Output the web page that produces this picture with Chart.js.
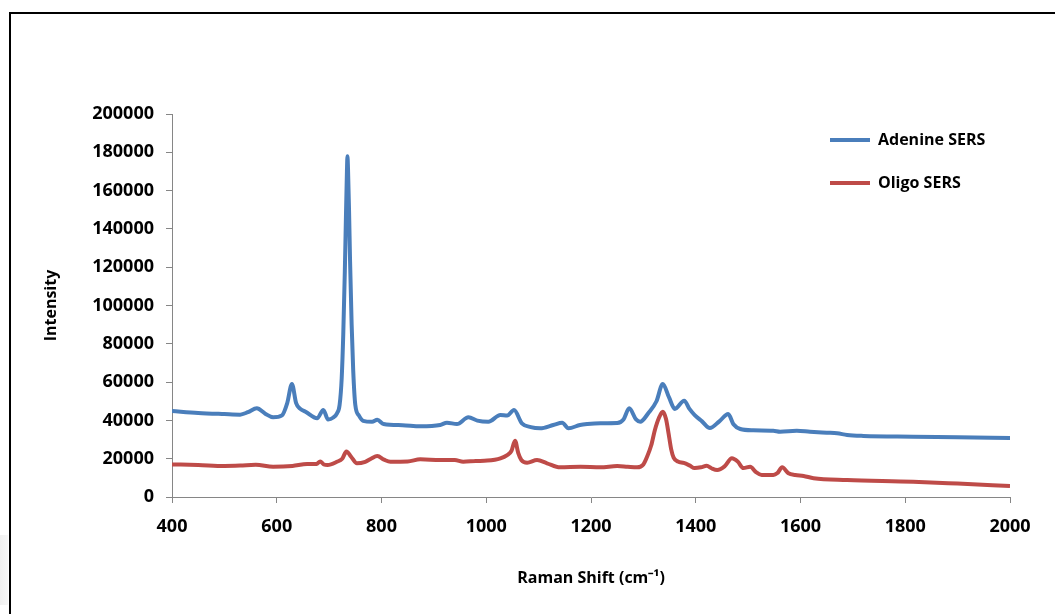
<!DOCTYPE html>
<html><head><meta charset="utf-8">
<script src="https://cdn.jsdelivr.net/npm/chart.js@4.4.1/dist/chart.umd.min.js"></script>
<style>
html,body{margin:0;padding:0;background:#fff;overflow:hidden;}
#wrap{position:relative;width:1055px;height:614px;overflow:hidden;background:#fff;}
#frame{position:absolute;left:9px;top:12px;width:1200px;height:800px;border-left:2.5px solid #000;border-top:2.5px solid #000;}
#shade{position:absolute;left:0;top:535px;width:8px;height:70px;background:linear-gradient(to right,#f0f0f0,#f7f7f7);}
canvas{position:absolute;left:0;top:0;}
</style></head><body>
<div id="wrap"><div id="shade"></div><div id="frame"></div><canvas id="c" width="1055" height="614"></canvas></div>
<script>
const seriesNames = ['Adenine SERS', 'Oligo SERS'];
const seriesColors = ['#4A7EBB', '#BE4B48'];

const adenineShift = [400, 450, 500, 530, 545, 562, 578, 593, 610, 620, 629, 637, 645, 655, 677, 689, 698, 708, 715, 720, 724, 727, 730, 732, 734, 735, 736, 738, 740, 743, 746, 750, 757, 765, 782, 792, 804, 840, 874, 912, 925, 944, 966, 983, 1004, 1027, 1040, 1053, 1068, 1085, 1103, 1128, 1145, 1157, 1179, 1193, 1218, 1250, 1262, 1273, 1286, 1294, 1310, 1325, 1337, 1349, 1360, 1378, 1388, 1398, 1412, 1427, 1445, 1462, 1472, 1485, 1510, 1548, 1561, 1593, 1618, 1650, 1670, 1689, 1720, 1815, 1900, 2000];
const adenineIntensity = [44900, 43900, 43300, 43000, 44300, 46300, 43500, 41600, 42600, 49000, 59000, 49000, 46000, 44500, 41100, 45400, 40500, 41500, 43700, 48000, 62000, 85000, 118000, 145000, 170000, 178000, 172000, 150000, 123000, 90000, 66000, 48000, 42500, 39800, 39300, 40300, 38100, 37500, 36900, 37600, 38800, 38100, 41600, 39900, 39300, 42800, 42500, 45400, 38500, 36500, 35900, 37600, 38800, 35900, 37600, 38100, 38500, 38600, 40500, 46300, 40500, 39300, 44000, 50000, 59000, 52000, 46000, 50300, 46000, 42800, 39500, 36000, 39500, 43300, 38000, 35500, 34800, 34600, 34100, 34600, 34100, 33600, 33300, 32400, 31900, 31500, 31200, 30800];

const oligoShift = [400, 450, 500, 530, 560, 593, 630, 658, 676, 683, 690, 697, 715, 725, 733, 742, 753, 769, 780, 792, 805, 817, 850, 874, 912, 940, 956, 980, 1002, 1027, 1040, 1048, 1055, 1061, 1067, 1078, 1097, 1116, 1141, 1180, 1218, 1250, 1270, 1288, 1300, 1307, 1315, 1322, 1330, 1337, 1343, 1348, 1353, 1358, 1366, 1377, 1388, 1398, 1410, 1421, 1430, 1441, 1455, 1469, 1480, 1491, 1504, 1515, 1526, 1548, 1556, 1565, 1577, 1590, 1606, 1625, 1689, 1815, 1900, 2000];
const oligoIntensity = [17000, 16700, 16200, 16400, 16800, 15800, 16200, 17200, 17200, 18600, 17000, 16700, 18400, 20000, 23700, 21000, 17600, 18400, 20000, 21400, 19500, 18400, 18500, 19700, 19300, 19300, 18400, 18800, 19000, 20200, 21900, 24000, 29400, 23000, 19300, 17900, 19300, 17600, 15500, 15800, 15500, 16200, 15800, 15500, 17000, 21000, 27000, 35000, 41500, 44500, 41000, 33400, 25000, 20400, 18500, 17800, 16500, 15100, 15500, 16300, 15000, 14100, 16000, 20200, 18500, 15100, 15800, 13000, 11500, 11500, 12500, 15500, 12400, 11500, 11000, 9800, 8900, 8000, 7000, 5700];

const xTicks = [400, 600, 800, 1000, 1200, 1400, 1600, 1800, 2000];
const yTicks = [0, 20000, 40000, 60000, 80000, 100000, 120000, 140000, 160000, 180000, 200000];
const xTitle = 'Raman Shift (cm\u207B\u00B9)';
const yTitle = 'Intensity';

const toPoints = (xs, ys) => xs.map((x, i) => ({x: x, y: ys[i]}));

const FONT = "'Open Sans', 'Liberation Sans', sans-serif";
Chart.defaults.color = '#000';
Chart.defaults.font.family = FONT;

const legendPlace = {
  id: 'legendPlace',
  afterUpdate(chart) {
    const l = chart.legend;
    if (!l) return;
    l.left = 803; l.top = 105; l.width = 240; l.height = 140;
    l.right = l.left + l.width; l.bottom = l.top + l.height;
    if (l.adjustHitBoxes) l.adjustHitBoxes();
  }
};

const axisColor = '#868686';

new Chart(document.getElementById('c'), {
  type: 'line',
  data: {
    datasets: [
      {label: seriesNames[0], data: toPoints(adenineShift, adenineIntensity), borderColor: seriesColors[0], backgroundColor: seriesColors[0], borderWidth: 4, pointRadius: 0, pointStyle: 'line', cubicInterpolationMode: 'monotone', fill: false},
      {label: seriesNames[1], data: toPoints(oligoShift, oligoIntensity), borderColor: seriesColors[1], backgroundColor: seriesColors[1], borderWidth: 4, pointRadius: 0, pointStyle: 'line', cubicInterpolationMode: 'monotone', fill: false}
    ]
  },
  options: {
    responsive: false,
    animation: false,
    layout: {padding: {left: 0, right: 45, top: 114, bottom: 0}},
    plugins: {
      tooltip: {enabled: false},
      legend: {
        position: 'chartArea',
        align: 'start',
        labels: {
          usePointStyle: true,
          pointStyleWidth: 40,
          padding: 27,
          color: '#000',
          font: {family: FONT, size: 16, weight: 'bold'}
        }
      }
    },
    scales: {
      x: {
        type: 'linear',
        min: 400, max: 2000,
        afterBuildTicks: (axis) => { axis.ticks = xTicks.map(v => ({value: v})); },
        afterFit: (axis) => { axis.height = 117; },
        grid: {drawOnChartArea: false, drawTicks: true, tickLength: 6, color: axisColor, lineWidth: 1},
        border: {color: axisColor, width: 1},
        ticks: {padding: 13, color: '#000', maxRotation: 0, font: {family: FONT, size: 18, weight: 'bold'}, callback: (v) => String(v)},
        title: {display: true, text: xTitle, color: '#000', font: {family: FONT, size: 16, weight: 'bold'}, padding: {top: 0, bottom: 26}}
      },
      y: {
        type: 'linear',
        min: 0, max: 200000,
        afterBuildTicks: (axis) => { axis.ticks = yTicks.map(v => ({value: v})); },
        afterFit: (axis) => { axis.width = 172; },
        grid: {drawOnChartArea: false, drawTicks: true, tickLength: 6, color: axisColor, lineWidth: 1},
        border: {color: axisColor, width: 1},
        ticks: {padding: 12, color: '#000', font: {family: FONT, size: 18, weight: 'bold'}, callback: (v) => String(v)},
        title: {display: true, text: yTitle, color: '#000', font: {family: FONT, size: 16, weight: 'bold'}, padding: {top: 42, bottom: 0}}
      }
    }
  },
  plugins: [legendPlace]
});
</script>
</body></html>
